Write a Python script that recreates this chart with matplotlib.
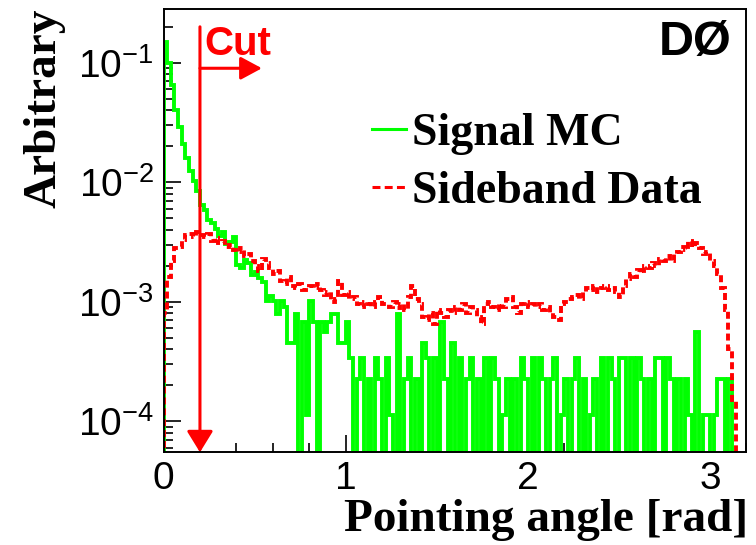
import numpy as np
import matplotlib
matplotlib.use("Agg")
import matplotlib.pyplot as plt
from matplotlib.lines import Line2D
from matplotlib.ticker import MultipleLocator, LogLocator, NullFormatter

# ─────────────────────────────────────────────
# Histogram data
# ─────────────────────────────────────────────

bin_lo, bin_hi, n_bins = 0.0, 3.2, 160      # pointing angle binning [rad]

# Signal MC: entries per bin, plot shows entries / sig_norm
sig_norm = 8930.0
sig_counts = [
    1340, 893, 580, 357, 259, 188, 143, 112, 91, 76,
    58, 52, 43, 41, 36, 32, 34, 27, 28, 31,
    18, 17, 20, 19, 15, 16, 14, 13, 9, 10,
    9, 7, 9, 8, 4, 4, 7, 0, 6, 1,
    9, 6, 0, 6, 5, 6, 7, 7, 4, 4,
    6, 3, 0, 2, 3, 0, 2, 0, 3, 2,
    0, 3, 1, 0, 7, 0, 2, 3, 0, 2,
    0, 4, 3, 0, 3, 0, 6, 2, 0, 4,
    0, 3, 0, 2, 3, 0, 2, 0, 3, 0,
    3, 2, 0, 1, 2, 0, 2, 0, 3, 2,
    0, 3, 0, 3, 2, 0, 2, 3, 0, 1,
    2, 0, 2, 3, 0, 2, 0, 1, 2, 0,
    3, 0, 3, 2, 0, 3, 3, 0, 3, 0,
    3, 2, 0, 2, 0, 3, 3, 0, 3, 2,
    0, 2, 0, 2, 1, 0, 5, 0, 1, 1,
    0, 1, 2, 2, 0, 2, 0, 0, 0, 0,
]

# Sideband data, in units of 1e-4
sb_e4 = [
    8, 16, 22, 28, 29, 33, 36, 37, 35, 38,
    36, 35, 37, 32, 34, 31, 32, 29, 30, 27,
    26, 28, 24, 25, 22, 20, 18, 23, 21, 19,
    17, 18, 15, 14, 16, 13.5, 13, 14, 12.5, 13,
    13.5, 13, 14, 12.5, 11.5, 12, 10, 10.5, 15, 11.5,
    12, 10.5, 11, 9.5, 9, 10, 9.5, 9, 10, 11,
    9.5, 9.5, 9, 10, 8.8, 9.5, 8.5, 11, 13.5, 10.5,
    9.5, 7.5, 7, 8, 6.5, 8.5, 8, 7.5, 8.5, 8,
    9, 8.5, 9.5, 8, 9, 8.5, 7.5, 6.5, 9.5, 10,
    9, 8.5, 9.5, 9, 10.5, 11, 9, 8, 9.5, 10,
    9, 9.5, 9, 9.5, 8.5, 9, 8, 7.5, 7, 9.5,
    10, 10.5, 11, 11.5, 10.5, 12, 13, 12.5, 13.5, 12,
    13, 13.5, 12.5, 13, 12, 11, 13.5, 15.5, 17, 16,
    18.5, 17.5, 20, 19, 21, 20, 23, 22, 24, 22,
    25, 26, 29, 27, 32, 29, 31, 28, 25, 26,
    22, 20, 17, 13, 8.5, 4, 1.5, 0, 0, 0,
]

labels = ["Signal MC", "Sideband Data"]
cut_x = 0.2

# ─────────────────────────────────────────────
# Style
# ─────────────────────────────────────────────

GREEN = "#00ff00"
RED = "#ff0000"
SERIF = "Liberation Serif"
SANS = "Liberation Sans"

plt.rcParams["font.family"] = SANS
plt.rcParams["mathtext.default"] = "regular"
plt.rcParams["axes.unicode_minus"] = False

YMIN, YMAX = 5.5e-5, 0.282
FLOOR = 1e-7     # empty bins drop below the frame

edges = np.linspace(bin_lo, bin_hi, n_bins + 1)
sig = np.array(sig_counts, dtype=float) / sig_norm
sb = np.array(sb_e4, dtype=float) * 1e-4
sig = np.where(sig > 0, sig, FLOOR)
sb = np.where(sb > 0, sb, FLOOR)

fig = plt.figure(figsize=(7.56, 5.45), dpi=100)
ax = fig.add_axes([0.2163, 0.1701, 0.7711, 0.8134])

lw = 2.8
dash = (0, (1.8, 1.0))
ax.stairs(sig, edges, baseline=FLOOR, color=GREEN, lw=lw, zorder=2)
ax.stairs(sb, edges, baseline=FLOOR, color=RED, lw=lw, linestyle=dash, zorder=3)

ax.set_yscale("log")
ax.set_xlim(bin_lo, bin_hi)
ax.set_ylim(YMIN, YMAX)

# ticks
ax.xaxis.set_major_locator(MultipleLocator(1))
ax.xaxis.set_minor_locator(MultipleLocator(0.2))
ax.yaxis.set_major_locator(LogLocator(base=10, numticks=12))
ax.yaxis.set_minor_locator(LogLocator(base=10, subs=np.arange(2, 10), numticks=12))
ax.yaxis.set_minor_formatter(NullFormatter())
ax.tick_params(which="both", direction="in", width=1.2, colors="black")
ax.tick_params(which="major", length=12, labelsize=28)
ax.tick_params(which="minor", length=6.5)
ax.tick_params(axis="y", pad=7)
ax.tick_params(axis="x", pad=6)
for sp in ax.spines.values():
    sp.set_linewidth(1.4)
    sp.set_zorder(6)

# axis titles (ROOT style: at the ends of the axes)
ax.set_xlabel("Pointing angle [rad]", family=SERIF, weight="bold", fontsize=34, loc="right")
ax.set_ylabel("Arbitrary", family=SERIF, weight="bold", fontsize=34, loc="top")
ax.xaxis.set_label_coords(1.003, -0.105)
ax.yaxis.set_label_coords(-0.169, 1.0)

# cut marker
arrow_kw = dict(color=RED, lw=2.2, shrinkA=0, shrinkB=0)
ax.annotate("", xy=(cut_x, YMIN), xytext=(cut_x, 0.2),
            arrowprops=dict(arrowstyle="-|>,head_length=0.65,head_width=0.4",
                            mutation_scale=20, **arrow_kw), zorder=5)
ax.annotate("", xy=(0.54, 0.09), xytext=(cut_x, 0.09),
            arrowprops=dict(arrowstyle="-|>,head_length=0.65,head_width=0.35",
                            mutation_scale=20, **arrow_kw), zorder=5)
ax.text(0.225, 0.116, "Cut", color=RED, fontsize=29, weight="bold", family=SANS)

ax.text(0.975, 0.975, "DØ", transform=ax.transAxes, ha="right", va="top",
        fontsize=35, weight="bold", family=SANS)

# legend
handles = [Line2D([], [], color=GREEN, lw=2.2),
           Line2D([], [], color=RED, lw=2.2, linestyle=(0, (2.6, 1.4)))]
ax.legend(handles, labels, loc="upper left", bbox_to_anchor=(0.3576, 0.766),
          frameon=False, borderpad=0, borderaxespad=0, handlelength=0.74,
          handletextpad=0.13, labelspacing=0.36,
          prop=dict(family=SERIF, weight="bold", size=33))

fig.savefig("out.png", dpi=100)
